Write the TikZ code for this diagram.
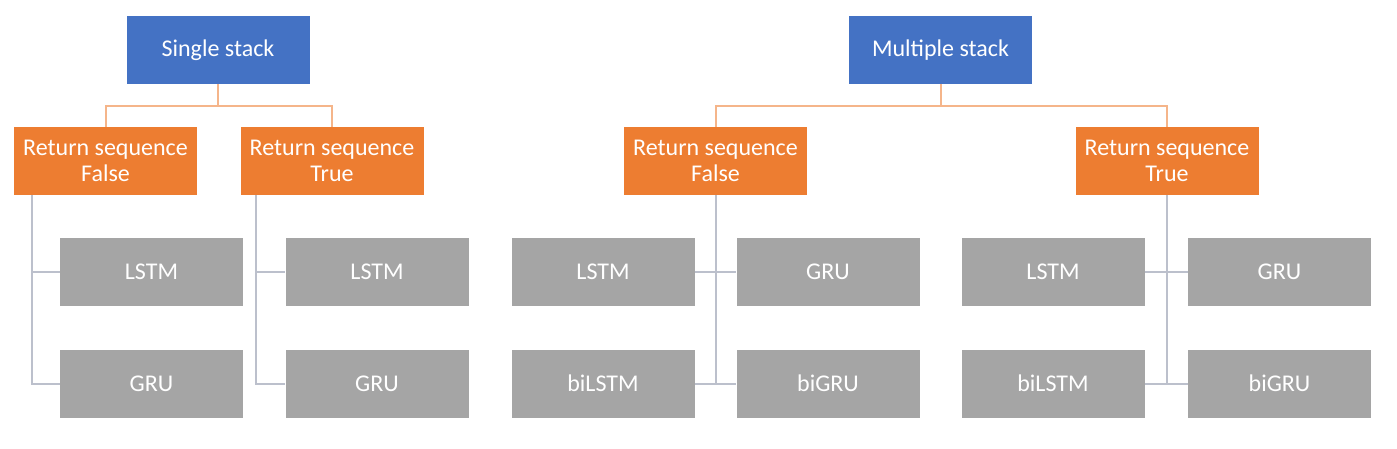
\documentclass[tikz,border=0pt]{standalone}
\usepackage{fontspec}
\setmainfont{Carlito}
\definecolor{bblue}{HTML}{4472C4}
\definecolor{borange}{HTML}{ED7D31}
\definecolor{bgray}{HTML}{A5A5A5}
\definecolor{lorange}{HTML}{F5B58A}
\definecolor{lgray}{HTML}{BCC0CC}
\tikzset{
  box/.style={rectangle, minimum width=183pt, minimum height=68pt, inner sep=0pt,
    text=white, font=\fontsize{24}{26}\selectfont, align=center},
  topbox/.style={box, fill=bblue},
  midbox/.style={box, fill=borange},
  leafbox/.style={box, fill=bgray},
  oline/.style={draw=lorange, line width=2pt},
  gline/.style={draw=lgray, line width=2pt},
}
\begin{document}
\begin{tikzpicture}[x=1pt,y=-1pt]
\useasboundingbox (0,0) rectangle (1397,449);
% Single stack
\node[topbox] (ss) at (218,50) {Single stack};
\node[midbox] (sf) at (105.5,161) {Return sequence\\False};
\node[midbox] (st) at (332,161) {Return sequence\\True};
\node[leafbox] (sfl) at (151.5,272) {LSTM};
\node[leafbox] (sfg) at (151.5,383.5) {GRU};
\node[leafbox] (stl) at (377,272) {LSTM};
\node[leafbox] (stg) at (377,383.5) {GRU};
% Multiple stack
\node[topbox] (ms) at (940.5,50) {Multiple stack};
\node[midbox] (mf) at (715.5,161) {Return sequence\\False};
\node[midbox] (mt) at (1167,161) {Return sequence\\True};
\node[leafbox] (mfl) at (603,272) {LSTM};
\node[leafbox] (mfg) at (828,272) {GRU};
\node[leafbox] (mfbl) at (603,383.5) {biLSTM};
\node[leafbox] (mfbg) at (828,383.5) {biGRU};
\node[leafbox] (mtl) at (1053,272) {LSTM};
\node[leafbox] (mtg) at (1279.5,272) {GRU};
\node[leafbox] (mtbl) at (1053,383.5) {biLSTM};
\node[leafbox] (mtbg) at (1279.5,383.5) {biGRU};
% orange connectors
\coordinate (ssj) at (218,106);
\coordinate (msj) at (940.5,106);
\draw[oline] (ss.south) -- (ssj) -| (sf.north);
\draw[oline] (ssj) -| (st.north);
\draw[oline] (ms.south) -- (msj) -| (mf.north);
\draw[oline] (msj) -| (mt.north);
% gray connectors single
\draw[gline] ([xshift=18pt]sf.south west) |- (sfg.west);
\draw[gline] ([xshift=18pt]sf.south west |- sfl.west) -- (sfl.west);
\draw[gline] ([xshift=16pt]st.south west) |- (stg.west);
\draw[gline] ([xshift=16pt]st.south west |- stl.west) -- (stl.west);
% gray connectors multiple
\draw[gline] (mf.south) -- (mf.south |- mfbl.east);
\draw[gline] (mfl.east) -- (mfg.west);
\draw[gline] (mfbl.east) -- (mfbg.west);
\draw[gline] (mt.south) -- (mt.south |- mtbl.east);
\draw[gline] (mtl.east) -- (mtg.west);
\draw[gline] (mtbl.east) -- (mtbg.west);
\end{tikzpicture}
\end{document}
